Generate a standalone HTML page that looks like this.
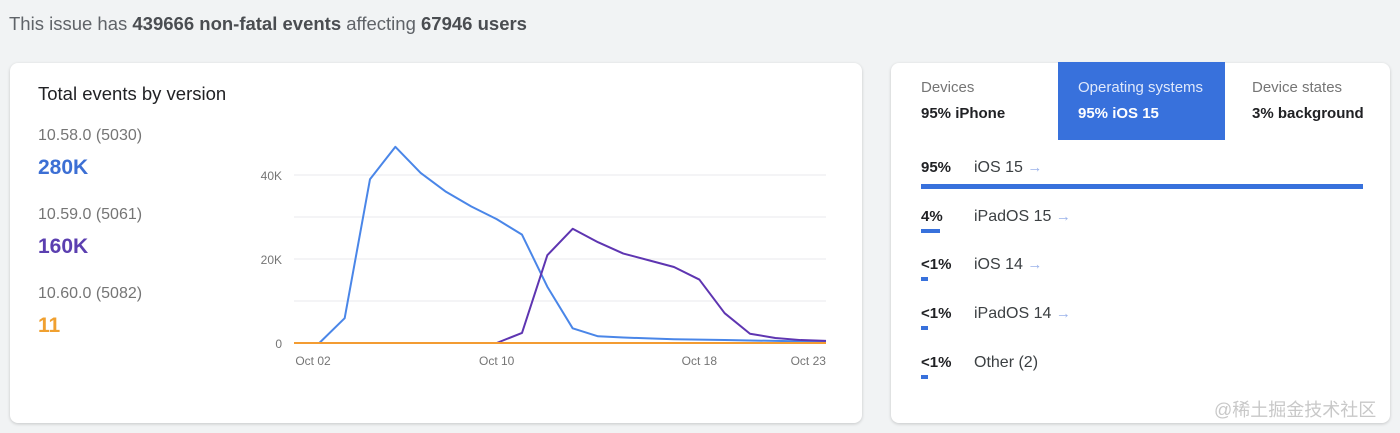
<!DOCTYPE html>
<html><head><meta charset="utf-8"><style>
body{margin:0;width:1400px;height:433px;background:#f1f3f4;font-family:"Liberation Sans","Noto Sans CJK SC",sans-serif;position:relative;overflow:hidden}
.a{position:absolute;white-space:nowrap}
.card{position:absolute;background:#fff;border-radius:8px;box-shadow:0 1px 3px rgba(0,0,0,.18)}
</style></head><body>
<div class="a" style="left:9px;top:13px;font-size:18.5px;color:#5f6368">This issue has <b style="color:#4a4d51">439666 non-fatal events</b> affecting <b style="color:#4a4d51">67946 users</b></div>

<div class="card" style="left:10px;top:63px;width:852px;height:360px">
 <div class="a" style="left:28px;top:20px;font-size:18.5px;color:#202124">Total events by version</div>
 <div class="a" style="left:28px;top:64px;font-size:16px;color:#757575">10.58.0 (5030)</div>
 <div class="a" style="left:28px;top:93px;font-size:21px;color:#3c6fd4;font-weight:bold">280K</div>
 <div class="a" style="left:28px;top:143px;font-size:16px;color:#757575">10.59.0 (5061)</div>
 <div class="a" style="left:28px;top:172px;font-size:21px;color:#5b3fb0;font-weight:bold">160K</div>
 <div class="a" style="left:28px;top:222px;font-size:16px;color:#757575">10.60.0 (5082)</div>
 <div class="a" style="left:28px;top:251px;font-size:21px;color:#f0a030;font-weight:bold">11</div>
</div>
<svg id="chart" class="a" style="left:0;top:0" width="862" height="423"></svg>

<div class="card" style="left:891px;top:63px;width:499px;height:360px">
 <div class="a" style="left:0;top:0;width:167px;height:77px">
  <div class="a" style="left:30px;top:16px;font-size:15px;color:#757575">Devices</div>
  <div class="a" style="left:30px;top:42px;font-size:15px;color:#202124;font-weight:bold">95% iPhone</div></div>
 <div class="a" style="left:167px;top:-1px;width:167px;height:78px;background:#3871dc">
  <div class="a" style="left:20px;top:17px;font-size:15px;color:#dfe8fb">Operating systems</div>
  <div class="a" style="left:20px;top:43px;font-size:15px;color:#fff;font-weight:bold">95% iOS 15</div></div>
 <div class="a" style="left:334px;top:0;width:165px;height:77px">
  <div class="a" style="left:27px;top:16px;font-size:15px;color:#757575">Device states</div>
  <div class="a" style="left:27px;top:42px;font-size:15px;color:#202124;font-weight:bold">3% background</div></div>
 <div id="rows"></div>
</div>
<div class="a" style="left:1214px;top:396px;font-size:18px;color:#c8c8c8">@稀土掘金技术社区</div>
<script>
const categories=["Oct 01","Oct 02","Oct 03","Oct 04","Oct 05","Oct 06","Oct 07","Oct 08","Oct 09","Oct 10","Oct 11","Oct 12","Oct 13","Oct 14","Oct 15","Oct 16","Oct 17","Oct 18","Oct 19","Oct 20","Oct 21","Oct 22"];
const blueValues=[0,0,5.9,39,46.7,40.5,36,32.5,29.5,25.8,13.4,3.5,1.6,1.3,1.1,0.9,0.8,0.7,0.6,0.5,0.4,0.4];
const purpleValues=[0,0,0,0,0,0,0,0,0,2.4,20.9,27.2,24,21.3,19.7,18.1,15.1,7.1,2.2,1.2,0.7,0.5];
const orangeValues=[0,0,0,0,0,0,0,0,0,0,0,0,0,0,0,0,0,0,0,0,0,0];
const yTicks=[0,10,20,30,40];
const yTickLabels=["0","","20K","","40K"];
const xTickLabels=["Oct 02","Oct 10","Oct 18","Oct 23"];
const xTickIndex=[0.75,8,16,20.3];
const osLabels=["iOS 15","iPadOS 15","iOS 14","iPadOS 14","Other (2)"];
const osPercentLabels=["95%","4%","<1%","<1%","<1%"];
const osShare=[95,4,1.6,1.6,1.6];

const svg=document.getElementById('chart');const NS='http://www.w3.org/2000/svg';
const X0=294,X1=826,Y0=343,PER=4.2;
const x=i=>X0+(X1-X0)*i/(categories.length-1);
const y=v=>Y0-v*PER;
function mk(t,at){const e=document.createElementNS(NS,t);for(const k in at)e.setAttribute(k,at[k]);svg.appendChild(e);return e;}
yTicks.forEach((v,k)=>{const l=mk('line',{x1:X0,x2:X1,y1:y(v),y2:y(v),stroke:'#e8eaed','stroke-width':1});


if(yTickLabels[k]){const t=mk('text',{x:282,y:y(v)+5,'text-anchor':'end','font-size':12,fill:'#757575'});t.textContent=yTickLabels[k];

}});
xTickLabels.forEach((s,k)=>{const t=mk('text',{x:x(xTickIndex[k]),y:365,'text-anchor':'middle','font-size':12,fill:'#757575'});t.textContent=s;

});
[[blueValues,'#4a86e8','series-10-58'],[purpleValues,'#5e35b1','series-10-59'],[orangeValues,'#f39c32','series-10-60']].forEach(([d,c,n])=>{
const p=mk('polyline',{points:d.map((v,i)=>x(i)+','+y(v)).join(' '),fill:'none',stroke:c,'stroke-width':2,'stroke-linejoin':'round'});

});

const rows=document.getElementById('rows');const BW=442/0.95;
osLabels.forEach((s,i)=>{const top=96+i*48.7;
const r=document.createElement('div');r.className='a';r.style.cssText=`left:30px;top:${top}px;width:460px;height:40px`;


r.innerHTML=`<div class="a" style="left:0;top:0;font-size:15px;font-weight:bold;color:#202124">${osPercentLabels[i].replace('<','&lt;')}</div><div class="a" style="left:53px;top:0;font-size:16px;color:#3c4043">${s}${i<4?' <span style="color:#9bb3ea;font-size:15px">→</span>':''}</div><div class="a" style="left:0;top:${i==0?25:21}px;height:${i==0?5:4}px;width:${Math.max(4,BW*osShare[i]/100)}px;background:#3871dc"></div>`;
rows.appendChild(r);});
</script>
</body></html>
